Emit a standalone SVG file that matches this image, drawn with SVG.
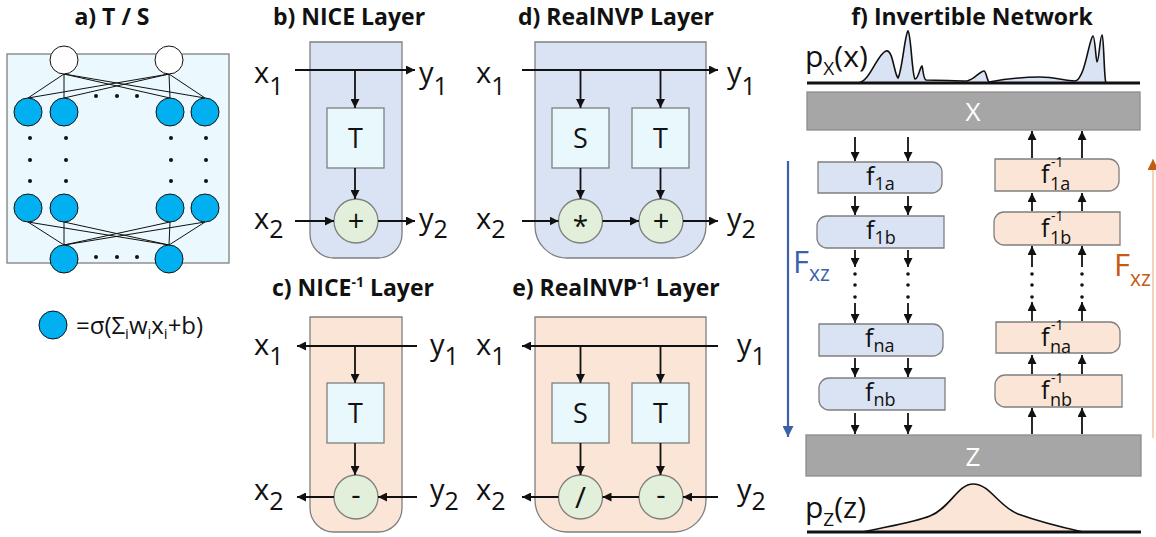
<svg xmlns="http://www.w3.org/2000/svg" width="1156" height="537" viewBox="0 0 1156 537">
<style>
text{font-family:"Open Sans","Liberation Sans",sans-serif;fill:#111}
.title{font-weight:bold;font-size:23px;text-anchor:middle}
.lab{font-size:29px}
.sub{font-size:25px}
.box{fill:#e9f8fd;stroke:#7f7f7f;stroke-width:1.3}
.op{fill:#e2efda;stroke:#7f7f7f;stroke-width:1.3}
.pb{fill:#dae3f3;stroke:#7f7f7f;stroke-width:1.3}
.pr{fill:#fbe5d6;stroke:#7f7f7f;stroke-width:1.3}
.neu{fill:#00b0f0;stroke:#111;stroke-width:1}
.wn{fill:#fff;stroke:#111;stroke-width:1}
.ar{stroke:#111;stroke-width:1.8;fill:none;marker-end:url(#ah)}
.ln{stroke:#111;stroke-width:1;fill:none}
.gray{fill:#a6a6a6;stroke:#8c8c8c;stroke-width:1.3}
.bl{font-size:27px;text-anchor:middle}
.fs{font-size:18px}
.fsup{font-size:14px}
.dot{fill:#111}
</style>
<defs>
<marker id="ah" viewBox="0 0 10 10" refX="10" refY="5" markerUnits="userSpaceOnUse" markerWidth="9" markerHeight="9" orient="auto"><path d="M0,0 L10,5 L0,10 z" fill="#111"/></marker>
<marker id="ahb" viewBox="0 0 10 10" refX="10" refY="5" markerUnits="userSpaceOnUse" markerWidth="12" markerHeight="11" orient="auto"><path d="M0,0 L10,5 L0,10 z" fill="#3a62a8"/></marker>
<marker id="aho" viewBox="0 0 10 10" refX="10" refY="5" markerUnits="userSpaceOnUse" markerWidth="12" markerHeight="11" orient="auto"><path d="M0,0 L10,5 L0,10 z" fill="#c55a11"/></marker>
</defs>

<!-- Panel a -->
<g id="panel-a">
<text class="title" x="112" y="25">a) T / S</text>
<rect x="7" y="54" width="222" height="209" fill="#ebf8fd" stroke="#7f7f7f" stroke-width="1.3"/>
<g class="ln">
<path d="M64,74 L28,98 M64,74 L64,98 M64,74 L170,98 M64,74 L205,98 M169,74 L28,98 M169,74 L64,98 M169,74 L170,98 M169,74 L205,98"/>
<path d="M28,222 L64,245 M64,222 L64,245 M170,222 L64,245 M205,222 L64,245 M28,222 L169,245 M64,222 L169,245 M170,222 L169,245 M205,222 L169,245"/>
</g>
<circle class="wn" cx="64" cy="60" r="14"/>
<circle class="wn" cx="169" cy="60" r="14"/>
<circle class="neu" cx="28" cy="112" r="14"/>
<circle class="neu" cx="64" cy="112" r="14"/>
<circle class="neu" cx="170" cy="112" r="14"/>
<circle class="neu" cx="205" cy="112" r="14"/>
<circle class="neu" cx="28" cy="208" r="14"/>
<circle class="neu" cx="64" cy="208" r="14"/>
<circle class="neu" cx="170" cy="208" r="14"/>
<circle class="neu" cx="205" cy="208" r="14"/>
<circle class="neu" cx="64" cy="259" r="14"/>
<circle class="neu" cx="169" cy="259" r="14"/>
<g class="dot">
<circle cx="96" cy="96" r="2"/><circle cx="117" cy="96" r="2"/><circle cx="137" cy="96" r="2"/>
<circle cx="96" cy="257" r="2"/><circle cx="117" cy="257" r="2"/><circle cx="137" cy="257" r="2"/>
<circle cx="30" cy="138" r="2"/><circle cx="30" cy="160" r="2"/><circle cx="30" cy="181" r="2"/>
<circle cx="66" cy="138" r="2"/><circle cx="66" cy="160" r="2"/><circle cx="66" cy="181" r="2"/>
<circle cx="171" cy="138" r="2"/><circle cx="171" cy="160" r="2"/><circle cx="171" cy="181" r="2"/>
<circle cx="206" cy="138" r="2"/><circle cx="206" cy="160" r="2"/><circle cx="206" cy="181" r="2"/>
</g>
</g>
<g id="legend">
<circle class="neu" cx="53" cy="325" r="14"/>
<text x="76" y="334" font-size="24">=σ(Σ<tspan font-size="15" dy="5">i</tspan><tspan dy="-5">w</tspan><tspan font-size="15" dy="5">i</tspan><tspan dy="-5">x</tspan><tspan font-size="15" dy="5">i</tspan><tspan dy="-5">+b)</tspan></text>
</g>

<!-- Panel b -->
<g id="panel-b">
<text class="title" x="349" y="25">b) NICE Layer</text>
<path class="pb" d="M310,42 H402 V234 A24,24 0 0 1 378,258 H334 A24,24 0 0 1 310,234 Z"/>
<rect class="box" x="327" y="108" width="57" height="60"/>
<text class="bl" x="355.5" y="148">T</text>
<circle class="op" cx="356" cy="221" r="22"/>
<text x="356" y="231" font-size="29" text-anchor="middle">+</text>
<text class="lab" x="254" y="83">x<tspan class="sub" dy="12">1</tspan></text>
<text class="lab" x="419" y="83">y<tspan class="sub" dy="12">1</tspan></text>
<text class="lab" x="254" y="229">x<tspan class="sub" dy="9">2</tspan></text>
<text class="lab" x="419" y="229">y<tspan class="sub" dy="9">2</tspan></text>
</g>

<!-- Panel c -->
<g id="panel-c">
<text class="title" x="353" y="296">c) NICE<tspan font-size="14" dy="-9">-1</tspan><tspan dy="9"> Layer</tspan></text>
<path class="pr" d="M310,317 H402 V508 A24,24 0 0 1 378,532 H334 A24,24 0 0 1 310,508 Z"/>
<rect class="box" x="327" y="383" width="57" height="60"/>
<text class="bl" x="355.5" y="423">T</text>
<circle class="op" cx="356" cy="497" r="22"/>
<text x="356" y="505" font-size="29" text-anchor="middle">-</text>
<text class="lab" x="254" y="355">x<tspan class="sub" dy="10">1</tspan></text>
<text class="lab" x="430" y="355">y<tspan class="sub" dy="10">1</tspan></text>
<text class="lab" x="254" y="500">x<tspan class="sub" dy="10">2</tspan></text>
<text class="lab" x="430" y="500">y<tspan class="sub" dy="10">2</tspan></text>
</g>

<!-- Panel d -->
<g id="panel-d">
<text class="title" x="616" y="25">d) RealNVP Layer</text>
<path class="pb" d="M535,42 H706 V226 A32,32 0 0 1 674,258 H567 A32,32 0 0 1 535,226 Z"/>
<rect class="box" x="552" y="108" width="57" height="60"/>
<text class="bl" x="580.5" y="148">S</text>
<rect class="box" x="632" y="108" width="57" height="60"/>
<text class="bl" x="660.5" y="148">T</text>
<circle class="op" cx="580.5" cy="221" r="22"/>
<text x="580.5" y="236" font-size="28" text-anchor="middle">*</text>
<circle class="op" cx="661" cy="221" r="22"/>
<text x="661" y="231" font-size="29" text-anchor="middle">+</text>
<text class="lab" x="476" y="83">x<tspan class="sub" dy="12">1</tspan></text>
<text class="lab" x="727" y="83">y<tspan class="sub" dy="12">1</tspan></text>
<text class="lab" x="476" y="229">x<tspan class="sub" dy="9">2</tspan></text>
<text class="lab" x="727" y="229">y<tspan class="sub" dy="9">2</tspan></text>
</g>

<!-- Panel e -->
<g id="panel-e">
<text class="title" x="616" y="296">e) RealNVP<tspan font-size="14" dy="-9">-1</tspan><tspan dy="9"> Layer</tspan></text>
<path class="pr" d="M535,317 H706 V500 A32,32 0 0 1 674,532 H567 A32,32 0 0 1 535,500 Z"/>
<rect class="box" x="552" y="383" width="57" height="60"/>
<text class="bl" x="580.5" y="423">S</text>
<rect class="box" x="632" y="383" width="57" height="60"/>
<text class="bl" x="660.5" y="423">T</text>
<circle class="op" cx="580.5" cy="497" r="22"/>
<text x="580.5" y="508" font-size="30" text-anchor="middle">/</text>
<circle class="op" cx="661" cy="497" r="22"/>
<text x="661" y="505" font-size="29" text-anchor="middle">-</text>
<text class="lab" x="476" y="355">x<tspan class="sub" dy="10">1</tspan></text>
<text class="lab" x="737" y="355">y<tspan class="sub" dy="10">1</tspan></text>
<text class="lab" x="476" y="500">x<tspan class="sub" dy="10">2</tspan></text>
<text class="lab" x="737" y="500">y<tspan class="sub" dy="10">2</tspan></text>
</g>

<!-- Panel f -->
<g id="panel-f">
<text class="title" x="972" y="25">f) Invertible Network</text>
<g id="px">
<path d="M858,83 C870,82 877,54 886,51 C893,49 894,74 898,78 C902,72 905,33 908,31 C911,33 912,76 915,79 C918,80 920,67 922,66 C923,67 923,79 926,80 C940,80 955,81 967,81 C974,80 980,71 984,71 C986,71 987,80 989,82 C1000,80 1020,77 1040,77 C1055,77 1065,81 1075,81 C1085,80 1089,38 1093,36 C1095,36 1096,62 1097,62 C1099,62 1100,35 1102,35 C1104,36 1104,80 1106,83 Z" fill="#dae3f3" stroke="#111" stroke-width="1.6"/>
<line x1="807" y1="83" x2="1140" y2="83" stroke="#111" stroke-width="2.8"/>
<text x="805" y="67" font-size="30">p<tspan font-size="19" dy="8">X</tspan><tspan dy="-8">(x)</tspan></text>
</g>
<g id="X">
<rect class="gray" x="807" y="92" width="333" height="38"/>
<text x="973" y="121" font-size="26" style="fill:#fff" text-anchor="middle">X</text>
</g>
<g id="f1a"><path class="pb" d="M818,162 H932 A10,10 0 0 1 942,172 V183 A10,10 0 0 1 932,193 H818 Z"/>
<text x="866" y="185" font-size="25">f<tspan class="fs" dy="5">1a</tspan></text></g>
<g id="f1b"><path class="pb" d="M827,216 H944 V248 H827 A10,10 0 0 1 817,238 V226 A10,10 0 0 1 827,216 Z"/>
<text x="866" y="239" font-size="25">f<tspan class="fs" dy="5">1b</tspan></text></g>
<g id="fna"><path class="pb" d="M819,324 H933 A10,10 0 0 1 943,334 V346 A10,10 0 0 1 933,356 H819 Z"/>
<text x="865" y="347" font-size="25">f<tspan class="fs" dy="5">na</tspan></text></g>
<g id="fnb"><path class="pb" d="M829,378 H945 V410 H829 A10,10 0 0 1 819,400 V388 A10,10 0 0 1 829,378 Z"/>
<text x="865" y="401" font-size="25">f<tspan class="fs" dy="5">nb</tspan></text></g>

<g id="f1a-inv"><path class="pr" d="M995,159 H1109 A10,10 0 0 1 1119,169 V181 A10,10 0 0 1 1109,191 H995 Z"/>
<text x="1041" y="183" font-size="25">f</text><text class="fsup" x="1051" y="167">-1</text><text class="fs" x="1050" y="190">1a</text></g>
<g id="f1b-inv"><path class="pr" d="M1004,212 H1120 V245 H1004 A10,10 0 0 1 994,235 V222 A10,10 0 0 1 1004,212 Z"/>
<text x="1041" y="237" font-size="25">f</text><text class="fsup" x="1051" y="221">-1</text><text class="fs" x="1050" y="244">1b</text></g>
<g id="fna-inv"><path class="pr" d="M996,322 H1110 A10,10 0 0 1 1120,332 V343 A10,10 0 0 1 1110,353 H996 Z"/>
<text x="1041" y="346" font-size="25">f</text><text class="fsup" x="1051" y="330">-1</text><text class="fs" x="1050" y="353">na</text></g>
<g id="fnb-inv"><path class="pr" d="M1005,375 H1122 V407 H1005 A10,10 0 0 1 995,397 V385 A10,10 0 0 1 1005,375 Z"/>
<text x="1041" y="399" font-size="25">f</text><text class="fsup" x="1051" y="383">-1</text><text class="fs" x="1050" y="406">nb</text></g>

<g id="Z">
<rect class="gray" x="806" y="435" width="335" height="41"/>
<text x="973" y="466" font-size="26" style="fill:#fff" text-anchor="middle">Z</text>
</g>
<g id="pz">
<path d="M863,532 C890,526 915,522 930,516 C950,508 958,484 973,484 C990,484 998,506 1018,514 C1040,522 1065,528 1083,532 Z" fill="#fbe5d6" stroke="#111" stroke-width="1.6"/>
<line x1="807" y1="532" x2="1141" y2="532" stroke="#111" stroke-width="2.8"/>
<text x="805" y="518" font-size="30">p<tspan font-size="19" dy="8">Z</tspan><tspan dy="-8">(z)</tspan></text>
</g>
<g id="Fxz-fwd">
<text x="793" y="273" font-size="31" style="fill:#3a62a8">F<tspan font-size="21" dy="8" style="fill:#3a62a8">xz</tspan></text>
</g>
<g id="Fxz-inv">
<text x="1114" y="276" font-size="31" style="fill:#c55a11">F<tspan font-size="21" dy="10" style="fill:#c55a11">xz</tspan></text>
</g>
<g class="dot">
<circle cx="855" cy="274" r="1.8"/><circle cx="855" cy="285" r="1.8"/><circle cx="855" cy="297" r="1.8"/>
<circle cx="908" cy="274" r="1.8"/><circle cx="908" cy="285" r="1.8"/><circle cx="908" cy="297" r="1.8"/>
<circle cx="1032" cy="274" r="1.8"/><circle cx="1032" cy="285" r="1.8"/><circle cx="1032" cy="297" r="1.8"/>
<circle cx="1082" cy="274" r="1.8"/><circle cx="1082" cy="285" r="1.8"/><circle cx="1082" cy="297" r="1.8"/>
</g>
</g>

<!-- Connectors -->
<g id="connectors">
<path class="ar" d="M295,70 H415"/>
<path class="ar" d="M355,70 V108"/>
<path class="ar" d="M355,168 V199"/>
<path class="ar" d="M295,221 H334"/>
<path class="ar" d="M378,221 H415"/>
<path class="ar" d="M417,346 H297"/>
<path class="ar" d="M355,346 V383"/>
<path class="ar" d="M355,443 V475"/>
<path class="ar" d="M417,497 H378"/>
<path class="ar" d="M334,497 H297"/>
<path class="ar" d="M522,70 H718"/>
<path class="ar" d="M580.5,70 V108"/>
<path class="ar" d="M660.5,70 V108"/>
<path class="ar" d="M580.5,168 V199"/>
<path class="ar" d="M660.5,168 V199"/>
<path class="ar" d="M522,221 H558.5"/>
<path class="ar" d="M602.5,221 H639"/>
<path class="ar" d="M683,221 H718"/>
<path class="ar" d="M718,346 H522"/>
<path class="ar" d="M580.5,346 V383"/>
<path class="ar" d="M660.5,346 V383"/>
<path class="ar" d="M580.5,443 V475"/>
<path class="ar" d="M660.5,443 V475"/>
<path class="ar" d="M718,497 H683"/>
<path class="ar" d="M639,497 H602.5"/>
<path class="ar" d="M558.5,497 H522"/>
<path class="ar" d="M855,137 V161"/>
<path class="ar" d="M908,137 V161"/>
<path class="ar" d="M855,196 V215"/>
<path class="ar" d="M908,196 V215"/>
<path class="ar" d="M855,250 V267"/>
<path class="ar" d="M908,250 V267"/>
<path class="ar" d="M855,303 V323"/>
<path class="ar" d="M908,303 V323"/>
<path class="ar" d="M855,358 V377"/>
<path class="ar" d="M908,358 V377"/>
<path class="ar" d="M855,413 V434"/>
<path class="ar" d="M908,413 V434"/>
<path class="ar" d="M1032,158 V131"/>
<path class="ar" d="M1082,158 V131"/>
<path class="ar" d="M1032,211 V193"/>
<path class="ar" d="M1082,211 V193"/>
<path class="ar" d="M1032,267 V246"/>
<path class="ar" d="M1082,267 V246"/>
<path class="ar" d="M1032,321 V302"/>
<path class="ar" d="M1082,321 V302"/>
<path class="ar" d="M1032,374 V355"/>
<path class="ar" d="M1082,374 V355"/>
<path class="ar" d="M1032,434 V408"/>
<path class="ar" d="M1082,434 V408"/>
<path d="M788,161 V437" stroke="#3a62a8" stroke-width="2.2" fill="none" marker-end="url(#ahb)"/>
<path d="M1153,438 V159" stroke="#f4c7a8" stroke-width="1.6" fill="none" marker-end="url(#aho)"/>
</g>
</svg>
